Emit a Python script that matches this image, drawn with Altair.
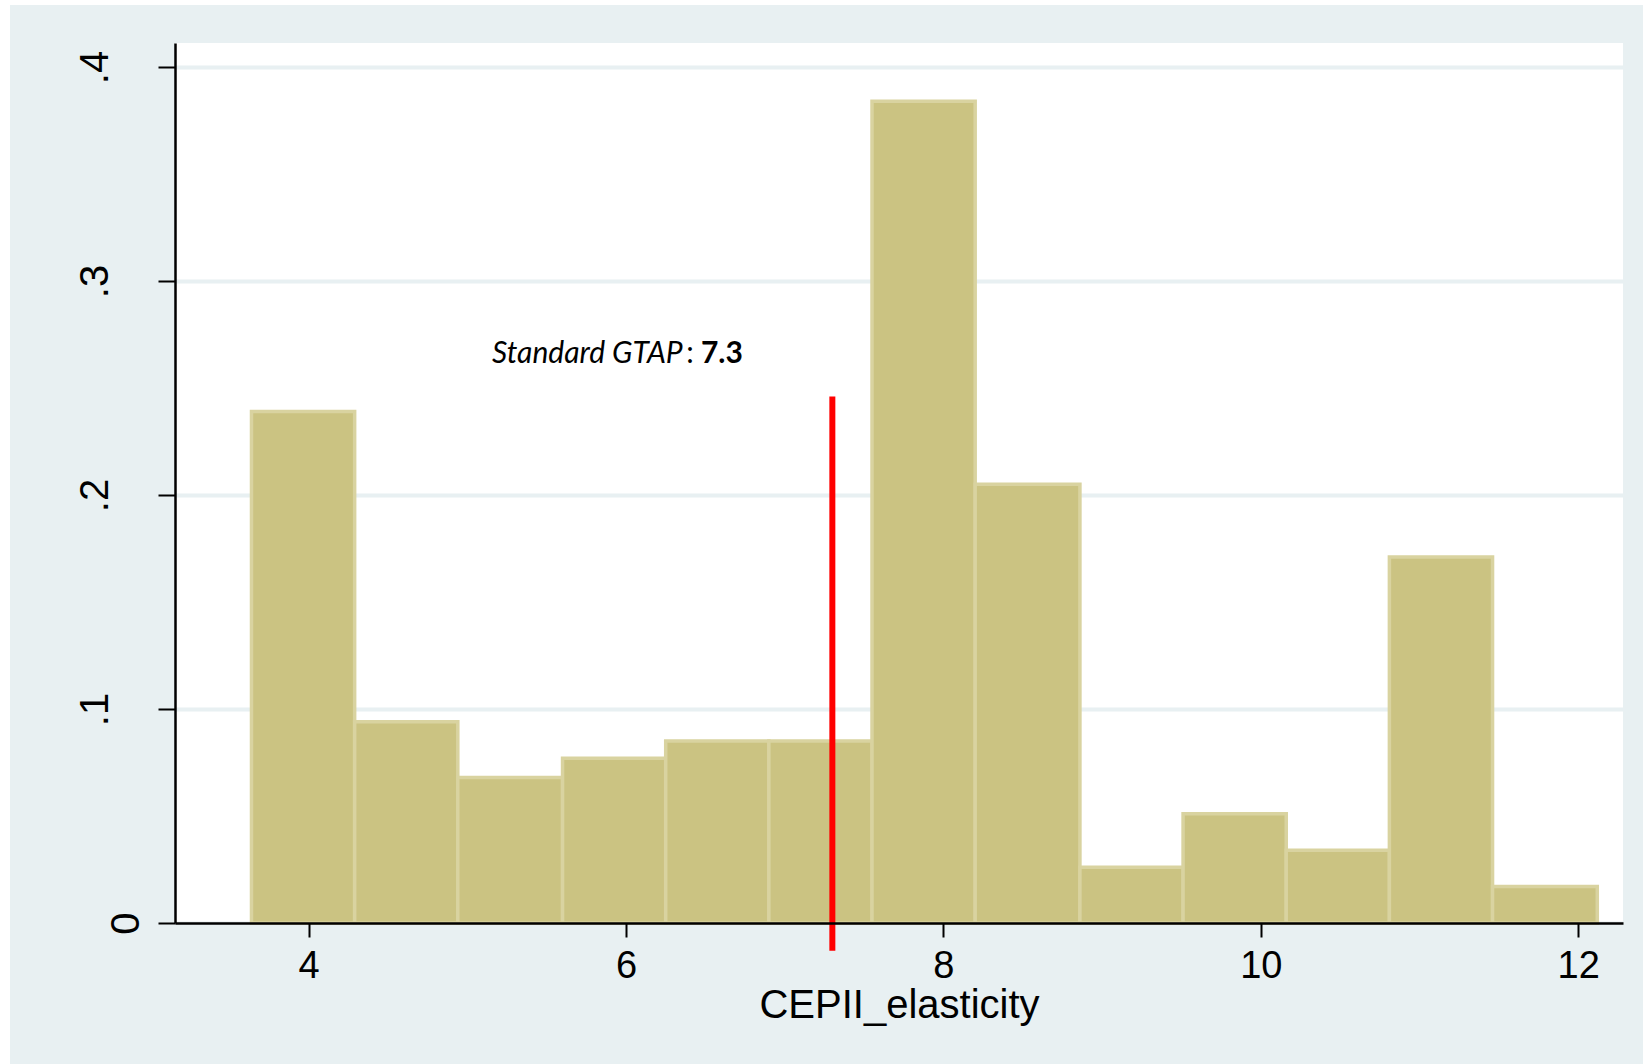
import altair as alt
import pandas as pd

# Histogram of CEPII trade elasticities (density scale)
bin_lo = [3.64, 4.29, 4.94, 5.60, 6.25, 6.90, 7.55, 8.20, 8.86, 9.51, 10.16, 10.81, 11.46]
bin_hi = [4.29, 4.94, 5.60, 6.25, 6.90, 7.55, 8.20, 8.86, 9.51, 10.16, 10.81, 11.46, 12.12]
density = [0.239, 0.094, 0.068, 0.077, 0.085, 0.085, 0.384, 0.205, 0.026, 0.051, 0.034, 0.171, 0.017]

x_ticks = [4, 6, 8, 10, 12]
y_ticks = [0, 0.1, 0.2, 0.3, 0.4]

# Reference marker for the standard GTAP elasticity
gtap_name = "Standard GTAP"
gtap_sep = ":"
gtap_value = 7.3
marker_top = 0.246
marker_bottom = -0.013

# Layout (pixels)
PLOT_W, PLOT_H = 1448, 880
PAD_L, PAD_T, PAD_R, PAD_B = 175, 43, 20, 141

X_DOMAIN = [3.158, 12.282]
Y_DOMAIN = [0, 0.4112]

BG = "#E8F0F2"
BAR_FILL = "#CBC382"
BAR_EDGE = "#D9D3A0"
FONT = "Liberation Sans"

xs = alt.Scale(domain=X_DOMAIN, nice=False, zero=False)
ys = alt.Scale(domain=Y_DOMAIN, nice=False, zero=False)

x_axis = alt.Axis(values=x_ticks, format="d", zindex=1,
                  domainColor="black", domainWidth=2.5,
                  tickColor="black", tickWidth=2, tickSize=14,
                  labelFontSize=38, labelFont=FONT, labelColor="black",
                  labelPadding=10, labelFlush=False,
                  titleFontSize=40, titleFont=FONT, titleColor="black",
                  titleFontWeight="normal", titlePadding=0, grid=False)
y_axis = alt.Axis(values=y_ticks, zindex=0,
                  labelExpr="datum.value == 0 ? '0' : substring(format(datum.value, '.1f'), 1)",
                  labelAngle=270, labelAlign="center", labelBaseline="bottom",
                  domainColor="black", domainWidth=2.5,
                  tickColor="black", tickWidth=2, tickSize=17,
                  labelFontSize=40, labelFont=FONT, labelColor="black",
                  labelPadding={"condition": {"test": "datum.value == 0", "value": 12},
                                "value": 43},
                  labelFlush=False,
                  grid=True, gridColor=BG, gridWidth=4)

bars_df = pd.DataFrame({"lo": bin_lo, "hi": bin_hi, "density": density})

bars = alt.Chart(bars_df).mark_rect(
    fill=BAR_FILL, stroke=BAR_EDGE, strokeWidth=3.5
).encode(
    x=alt.X("lo:Q", scale=xs, title="CEPII_elasticity", axis=x_axis),
    x2="hi:Q",
    y=alt.Y("density:Q", scale=ys, title=None, axis=y_axis),
    y2=alt.datum(0),
)

marker_df = pd.DataFrame({"lo": [gtap_value], "density": [marker_top], "bottom": [marker_bottom]})
marker = alt.Chart(marker_df).mark_rule(color="#FF0000", strokeWidth=6, clip=False).encode(
    x=alt.X("lo:Q", scale=xs, title="CEPII_elasticity", axis=x_axis),
    y=alt.Y("density:Q", scale=ys, title=None, axis=y_axis),
    y2="bottom:Q",
)

note_df = pd.DataFrame({
    "lo": [5.156, 6.38, 6.472],
    "density": [0.2615, 0.2615, 0.2615],
    "t": [gtap_name, gtap_sep, f"{gtap_value}"],
})
note_base = alt.Chart(note_df).encode(
    x=alt.X("lo:Q", scale=xs, title="CEPII_elasticity", axis=x_axis),
    y=alt.Y("density:Q", scale=ys, title=None, axis=y_axis),
    text="t:N",
)
note_name = note_base.transform_filter(alt.datum.t == gtap_name).mark_text(
    align="left", baseline="alphabetic", font="Lato", fontSize=30,
    fontStyle="italic", color="black")
note_sep = note_base.transform_filter(alt.datum.t == gtap_sep).mark_text(
    align="left", baseline="alphabetic", font="Lato", fontSize=30, color="black")
note_val = note_base.transform_filter(alt.datum.t == f"{gtap_value}").mark_text(
    align="left", baseline="alphabetic", font="Lato", fontSize=30,
    fontWeight="bold", color="black")

# White page margin along the left and top edges
edge = alt.Data(values=[{}])
left_strip = alt.Chart(edge).mark_rect(color="white", clip=False).encode(
    x=alt.value(-PAD_L), x2=alt.value(-PAD_L + 10),
    y=alt.value(-PAD_T), y2=alt.value(PLOT_H + PAD_B))
top_strip = alt.Chart(edge).mark_rect(color="white", clip=False).encode(
    x=alt.value(-PAD_L), x2=alt.value(PLOT_W + PAD_R),
    y=alt.value(-PAD_T), y2=alt.value(-PAD_T + 5))

chart = alt.layer(
    bars, marker, note_name, note_sep, note_val, left_strip, top_strip
).properties(
    width=PLOT_W, height=PLOT_H,
    autosize=alt.AutoSizeParams(type="none"),
    padding={"left": PAD_L, "top": PAD_T, "right": PAD_R, "bottom": PAD_B},
    background=BG,
).configure_view(fill="white", stroke=None)

chart.save("out.html", embed_options={"renderer": "svg", "actions": False})
